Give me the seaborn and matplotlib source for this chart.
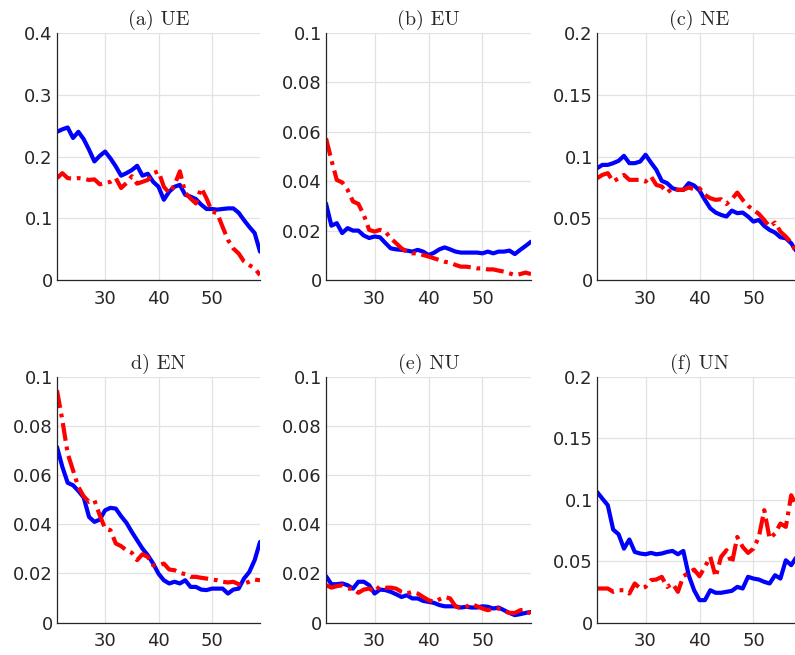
import numpy as np
import pandas as pd
import seaborn as sns
import matplotlib
matplotlib.use("Agg")
import matplotlib.pyplot as plt

ages = list(range(21, 60))

titles = ["(a) UE", "(b) EU", "(c) NE", "d) EN", "(e) NU", "(f) UN"]
ylims = [0.4, 0.1, 0.2, 0.1, 0.1, 0.2]
yticks = [
    [0, 0.1, 0.2, 0.3, 0.4],
    [0, 0.02, 0.04, 0.06, 0.08, 0.1],
    [0, 0.05, 0.1, 0.15, 0.2],
    [0, 0.02, 0.04, 0.06, 0.08, 0.1],
    [0, 0.02, 0.04, 0.06, 0.08, 0.1],
    [0, 0.05, 0.1, 0.15, 0.2],
]
ytick_labels = [
    ["0", "0.1", "0.2", "0.3", "0.4"],
    ["0", "0.02", "0.04", "0.06", "0.08", "0.1"],
    ["0", "0.05", "0.1", "0.15", "0.2"],
    ["0", "0.02", "0.04", "0.06", "0.08", "0.1"],
    ["0", "0.02", "0.04", "0.06", "0.08", "0.1"],
    ["0", "0.05", "0.1", "0.15", "0.2"],
]
xticks = [30, 40, 50]

# blue solid series
blue_ue = [0.240, 0.244, 0.247, 0.230, 0.240, 0.228, 0.211, 0.192, 0.201, 0.208,
           0.197, 0.184, 0.169, 0.173, 0.178, 0.185, 0.169, 0.172, 0.159, 0.151,
           0.130, 0.143, 0.151, 0.154, 0.138, 0.135, 0.131, 0.122, 0.115, 0.115,
           0.114, 0.115, 0.116, 0.116, 0.109, 0.097, 0.086, 0.076, 0.046]
red_ue = [0.165, 0.173, 0.165, 0.164, 0.165, 0.164, 0.162, 0.163, 0.155, 0.157,
          0.159, 0.165, 0.149, 0.157, 0.168, 0.156, 0.159, 0.162, 0.173, 0.176,
          0.151, 0.141, 0.154, 0.176, 0.141, 0.132, 0.124, 0.149, 0.132, 0.111,
          0.108, 0.086, 0.065, 0.051, 0.043, 0.030, 0.024, 0.019, 0.008]

blue_eu = [0.031, 0.022, 0.023, 0.019, 0.021, 0.020, 0.020, 0.018, 0.017, 0.0176,
           0.0173, 0.015, 0.0128, 0.0124, 0.0122, 0.0119, 0.0115, 0.0122, 0.0115, 0.0101,
           0.011, 0.0124, 0.0132, 0.0124, 0.0115, 0.0111, 0.0111, 0.0111, 0.0111, 0.0108,
           0.0115, 0.0108, 0.0115, 0.0115, 0.0119, 0.0105, 0.0122, 0.0138, 0.0155]
red_eu = [0.0574, 0.0486, 0.0405, 0.0395, 0.0365, 0.0318, 0.0308, 0.0264, 0.0203, 0.0196,
          0.0203, 0.0196, 0.0169, 0.0149, 0.0128, 0.0115, 0.0108, 0.0108, 0.0101, 0.0095,
          0.0088, 0.0081, 0.0074, 0.0070, 0.0061, 0.0054, 0.0054, 0.0051, 0.0047, 0.0047,
          0.0043, 0.0043, 0.0038, 0.0034, 0.0027, 0.0020, 0.0024, 0.0030, 0.0024]

blue_ne = [0.0905, 0.0932, 0.0932, 0.0946, 0.0965, 0.1005, 0.0946, 0.0946, 0.0959, 0.1014,
           0.0951, 0.0892, 0.0803, 0.0784, 0.0743, 0.0730, 0.0730, 0.0784, 0.0765, 0.0724,
           0.0649, 0.0581, 0.0546, 0.0527, 0.0514, 0.0562, 0.0541, 0.0546, 0.0514, 0.0473,
           0.0486, 0.0438, 0.0405, 0.0384, 0.0346, 0.0338, 0.0297, 0.0230, 0.016]
red_ne = [0.0824, 0.0851, 0.0865, 0.0797, 0.0824, 0.0851, 0.0811, 0.0811, 0.0811, 0.0797,
          0.0838, 0.0770, 0.0757, 0.0708, 0.0743, 0.0730, 0.0730, 0.0749, 0.0735, 0.0743,
          0.0689, 0.0662, 0.0649, 0.0654, 0.0616, 0.0654, 0.0708, 0.0649, 0.0600, 0.0568,
          0.0535, 0.0486, 0.0432, 0.0465, 0.0392, 0.0351, 0.0303, 0.0216, 0.0135]

blue_en = [0.0715, 0.0634, 0.0569, 0.0559, 0.0536, 0.0509, 0.0430, 0.0410, 0.0419, 0.0457,
           0.0467, 0.0464, 0.0433, 0.0406, 0.0369, 0.0335, 0.0301, 0.0274, 0.0240, 0.0199,
           0.0172, 0.0159, 0.0166, 0.0159, 0.0172, 0.0145, 0.0145, 0.0134, 0.0132, 0.0138,
           0.0138, 0.0138, 0.0118, 0.0134, 0.0138, 0.0179, 0.0206, 0.0254, 0.0328]
red_en = [0.0946, 0.0824, 0.0688, 0.0620, 0.0552, 0.0514, 0.0491, 0.0498, 0.0437, 0.0383,
          0.0376, 0.0322, 0.0311, 0.0294, 0.0284, 0.0254, 0.0278, 0.0267, 0.0233, 0.0233,
          0.0240, 0.0216, 0.0213, 0.0202, 0.0197, 0.0186, 0.0186, 0.0182, 0.0179, 0.0175,
          0.0172, 0.0166, 0.0163, 0.0166, 0.0156, 0.0159, 0.0166, 0.0175, 0.0172]

blue_nu = [0.0189, 0.0156, 0.0156, 0.0159, 0.0152, 0.0138, 0.0166, 0.0166, 0.0152, 0.0118,
           0.0134, 0.0132, 0.0125, 0.0115, 0.0104, 0.0111, 0.0098, 0.0098, 0.0088, 0.0084,
           0.0080, 0.0071, 0.0066, 0.0066, 0.0066, 0.0061, 0.0064, 0.0061, 0.0061, 0.0066,
           0.0064, 0.0057, 0.0061, 0.0050, 0.0039, 0.0030, 0.0034, 0.0039, 0.0043]
red_nu = [0.0152, 0.0142, 0.0148, 0.0152, 0.0138, 0.0138, 0.0121, 0.0134, 0.0138, 0.0125,
          0.0148, 0.0142, 0.0142, 0.0138, 0.0125, 0.0118, 0.0125, 0.0118, 0.0104, 0.0091,
          0.0084, 0.0094, 0.0104, 0.0098, 0.0066, 0.0057, 0.0064, 0.0075, 0.0066, 0.0057,
          0.0050, 0.0057, 0.0057, 0.0047, 0.0039, 0.0039, 0.0050, 0.0053, 0.0034]

blue_un = [0.1064, 0.1009, 0.0955, 0.0757, 0.0719, 0.0602, 0.0676, 0.0575, 0.0562, 0.0556,
           0.0567, 0.0556, 0.0562, 0.0575, 0.0583, 0.0556, 0.0583, 0.0385, 0.0263, 0.0182,
           0.0182, 0.0263, 0.0242, 0.0242, 0.0250, 0.0258, 0.0290, 0.0277, 0.0372, 0.0358,
           0.0350, 0.0331, 0.0318, 0.0385, 0.0358, 0.0507, 0.0467, 0.0535, 0.0520]
red_un = [0.0277, 0.0277, 0.0277, 0.0250, 0.0263, 0.0263, 0.0236, 0.0318, 0.0277, 0.0290,
          0.0345, 0.0350, 0.0372, 0.0290, 0.0318, 0.0250, 0.0377, 0.0404, 0.0431, 0.0377,
          0.0453, 0.0535, 0.0372, 0.0535, 0.0589, 0.0480, 0.0697, 0.0616, 0.0567, 0.0602,
          0.0697, 0.0915, 0.0684, 0.0725, 0.0806, 0.0779, 0.1037, 0.0942, 0.0950]

blues = [blue_ue, blue_eu, blue_ne, blue_en, blue_nu, blue_un]
reds = [red_ue, red_eu, red_ne, red_en, red_nu, red_un]

sns.set_theme(style="whitegrid")
plt.rcParams["font.family"] = ["Liberation Sans", "DejaVu Sans"]

W, H = 795, 655
fig = plt.figure(figsize=(W / 100, H / 100), dpi=100)

# axes boxes in pixels: left, top, width, height
boxes = [
    (57, 33, 203, 247), (326, 33, 205, 247), (597, 33, 205, 247),
    (57, 377, 203, 245.5), (326, 377, 205, 245.5), (597, 377, 205, 245.5),
]

for i in range(6):
    l, t, w, h = boxes[i]
    ax = fig.add_axes([l / W, 1 - (t + h) / H, w / W, h / H])
    df = pd.DataFrame({"age": ages, "blue": blues[i], "red": reds[i]})
    sns.lineplot(data=df, x="age", y="blue", ax=ax, color="#0000ff",
                 linewidth=3.0, linestyle="-", solid_joinstyle="round")
    sns.lineplot(data=df, x="age", y="red", ax=ax, color="#ff0000",
                 linewidth=3.0, linestyle=(0, (4.3, 1.4, 0.9, 1.4)))
    ax.set_xlim(21, 59)
    ax.set_ylim(0, ylims[i])
    ax.set_xticks(xticks)
    ax.set_xticklabels([str(x) for x in xticks])
    ax.set_yticks(yticks[i])
    ax.set_yticklabels(ytick_labels[i])
    ax.set_xlabel("")
    ax.set_ylabel("")
    ax.set_facecolor("white")
    ax.grid(True, color="#e2e2e2", linewidth=0.9)
    for side in ["top", "right"]:
        ax.spines[side].set_visible(False)
    for side in ["left", "bottom"]:
        ax.spines[side].set_visible(True)
        ax.spines[side].set_color("#262626")
        ax.spines[side].set_linewidth(0.9)
    ax.tick_params(axis="both", which="both", colors="#262626",
                   direction="in", length=2.5, width=0.8)
    ax.tick_params(axis="x", pad=7)
    ax.tick_params(axis="y", pad=3)
    for lab in ax.get_xticklabels() + ax.get_yticklabels():
        lab.set_family(["DejaVu Sans"])
        lab.set_fontsize(13)
        lab.set_color("#262626")
    ax.set_title(titles[i], family="cmr10", fontsize=14.5, color="#262626", pad=6)

fig.savefig("out.png", dpi=100, facecolor="white")
